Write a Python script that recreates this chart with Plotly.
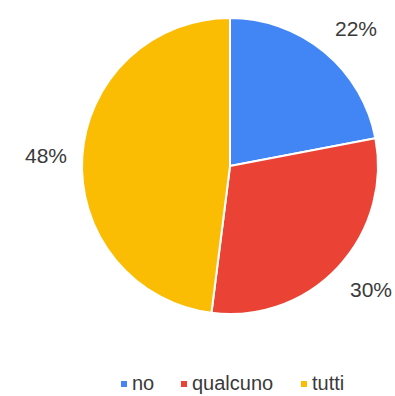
import math
import plotly.graph_objects as go

labels = ["no", "qualcuno", "tutti"]
values = [22, 30, 48]
colors = ["#4285F4", "#EA4335", "#FBBC04"]

W, H = 395, 396
TEXT = "#3a3a3a"
FONT = "Liberation Sans, Arial"

# pie box in paper fractions
dom_x = [82 / W, 378 / W]
dom_y = [1 - 314 / H, 1 - 18 / H]

fig = go.Figure()
fig.add_trace(go.Pie(
    labels=labels, values=values, sort=False, direction="clockwise", rotation=0,
    marker=dict(colors=colors, line=dict(color="white", width=2)),
    textinfo="none", hoverinfo="label+percent", showlegend=False,
    domain=dict(x=dom_x, y=dom_y),
))

# percentage labels outside each slice: the label box's nearest corner sits on the
# slice's mid-angle ray, a little beyond the rim
cx = (dom_x[0] + dom_x[1]) / 2 * W
cy = (1 - (dom_y[0] + dom_y[1]) / 2) * H
r = (dom_x[1] - dom_x[0]) * W / 2
d = r * 1.10
total = sum(values)
cum = 0
for v in values:
    mid = (cum + v / 2) / total
    cum += v
    th = 2 * math.pi * mid
    s, c = math.sin(th), math.cos(th)
    px = cx + d * s
    py = cy - d * c
    xa = "left" if s > 0.3 else ("right" if s < -0.3 else "center")
    ya = "bottom" if c > 0.3 else ("top" if c < -0.3 else "middle")
    fig.add_annotation(
        x=px / W, y=1 - py / H, xref="paper", yref="paper",
        xanchor=xa, yanchor=ya, borderpad=0,
        text=f"{round(v / total * 100)}%", showarrow=False,
        font=dict(family=FONT, size=21, color=TEXT),
    )

# legend row: small square swatch followed by the category name
legend_x = [121, 181, 301]   # left edge of each swatch, px
legend_y = 384               # row centre, px
sw = 6
for lab, col, lx in zip(labels, colors, legend_x):
    fig.add_shape(
        type="rect", xref="paper", yref="paper",
        x0=lx / W, x1=(lx + sw) / W,
        y0=1 - (legend_y + sw / 2) / H, y1=1 - (legend_y - sw / 2) / H,
        fillcolor=col, line=dict(width=0),
    )
    fig.add_annotation(
        x=(lx + sw + 4) / W, y=1 - (legend_y - 1) / H, xref="paper", yref="paper",
        xanchor="left", yanchor="middle", borderpad=0, showarrow=False,
        text=lab, font=dict(family=FONT, size=20, color=TEXT),
    )

fig.update_layout(
    width=W, height=H, margin=dict(l=0, r=0, t=0, b=0, autoexpand=False),
    paper_bgcolor="white", plot_bgcolor="white", showlegend=False,
)

fig.write_html("out.html")
